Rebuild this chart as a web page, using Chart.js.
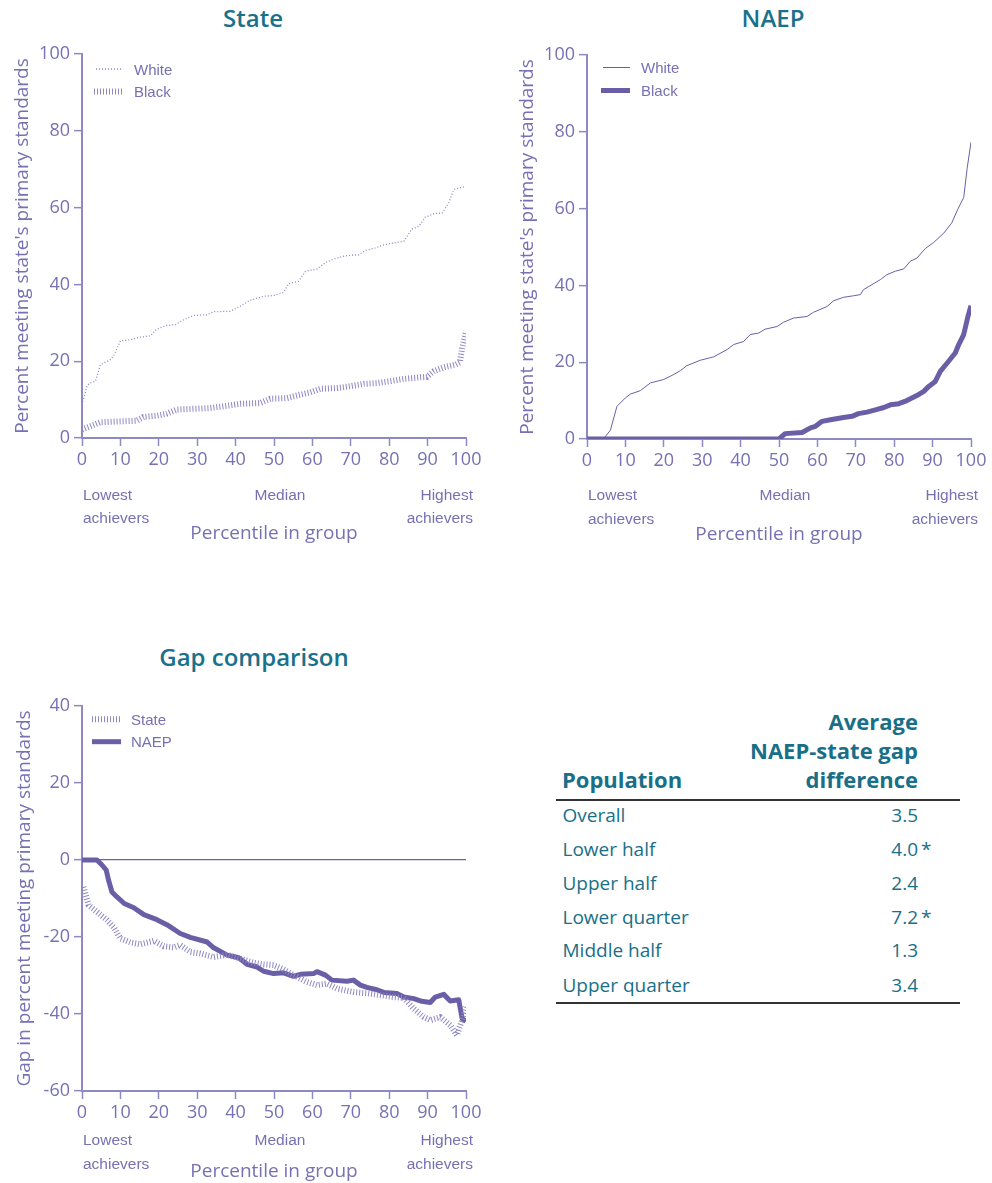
<!DOCTYPE html>
<html>
<head>
<meta charset="utf-8">
<script src="https://cdn.jsdelivr.net/npm/chart.js@4.4.1/dist/chart.umd.min.js"></script>
<style>
  html, body { margin: 0; padding: 0; background: #ffffff; }
  #page { position: relative; width: 992px; height: 1183px; overflow: hidden; font-family: "Open Sans", sans-serif; }
  .box { position: absolute; }
  .heading { position: absolute; color: #19718a; font-family: "Open Sans", sans-serif; font-size: 24px; font-weight: 600; transform: translate(-50%, -50%); white-space: nowrap; }
  .t { position: absolute; white-space: nowrap; line-height: 1; color: #1a6f88; font-family: "Open Sans", sans-serif; }
  .rule { position: absolute; height: 2px; background: #333333; }
</style>
</head>
<body>
<div id="page">
  <div class="heading" style="left:253px; top:17px;">State</div>
  <div class="heading" style="left:773px; top:17px;">NAEP</div>
  <div class="heading" style="left:254px; top:656px;">Gap comparison</div>
  <div class="box" style="left:0px; top:0px;"><canvas id="c1" width="490" height="560"></canvas></div>
  <div class="box" style="left:500px; top:0px;"><canvas id="c2" width="492" height="560"></canvas></div>
  <div class="box" style="left:0px; top:640px;"><canvas id="c3" width="490" height="543"></canvas></div>
  <div id="tbl"></div>
</div>
<script>
// ---------------- DATA ----------------
// State assessment, percent meeting standards by percentile in group
const stateWhitePct = [0,1.3,2,3.5,4.8,7.4,8.2,10,12.6,14.8,17.8,19.5,22,24.3,26.5,29,32.5,34.3,38.6,41.2,43.8,47.3,49.9,52.5,53.8,56.4,58.2,61.2,63.4,66.4,69,72,73.8,76.4,78.6,81.2,83.8,85.9,87.7,89.4,91.6,93.8,95.5,96.8,100];
const stateWhiteVal = [8.7,13.5,14.3,14.8,19.1,20.4,21.3,25.3,25.6,26.2,26.6,28.4,29.3,29.5,30.8,31.9,32.1,32.9,33.0,34.3,35.9,36.9,37.1,37.9,40.2,40.8,43.4,44.0,45.7,46.9,47.5,47.7,48.8,49.5,50.3,50.8,51.2,54.4,55.1,57.5,58.4,58.6,61.2,64.7,65.5];
const stateBlackPct = [0,4.8,9.1,14.3,16,19.5,22,24.7,29,33.4,37.8,41.2,46.4,49,53.4,56.9,59.5,62,66.4,69.9,73.4,76.8,80.3,83.8,88.1,89.8,91.6,94.2,97.2,98.4,99,100];
const stateBlackVal = [2.2,4.1,4.3,4.5,5.5,5.8,6.3,7.4,7.6,7.8,8.4,8.9,9.1,10.2,10.4,11.3,11.9,12.8,13.0,13.5,14.1,14.3,14.8,15.4,15.8,15.9,17.4,18.4,19.1,19.7,23.4,27.8];
// NAEP
const naepWhitePct = [0,4.5,6.1,7.8,10,11.3,13.9,16.5,20,22.6,24.3,26,29.5,33,36.5,38.2,40.8,42.5,44.7,46.4,49.5,51.2,53.8,57.3,59,62.5,64.2,66.8,69.4,71.2,72,74.2,76.4,78.1,80.3,82.5,84.2,85.9,88.1,90.3,92.9,95,96.5,98.1,99,100];
const naepWhiteVal = [0,0.3,2.3,8.5,10.7,11.7,12.6,14.6,15.5,16.8,17.8,19.1,20.5,21.4,23.3,24.6,25.4,27.2,27.6,28.6,29.3,30.4,31.5,31.9,33.0,34.5,36.0,36.9,37.3,37.6,38.9,40.2,41.5,42.8,43.7,44.3,46.3,47.1,49.6,51.2,53.6,56.3,59.7,62.9,70.5,77.3];
const naepBlackPct = [0,50,51.6,56,58.2,59.5,61.2,63.4,66.8,69,70.7,72.9,75.1,77.3,79,81.2,83.3,85.9,87.7,89,90.7,92,93.8,95.9,96.8,98.1,99.2,100];
const naepBlackVal = [0,0,1.4,1.7,2.9,3.3,4.6,5.0,5.6,5.9,6.6,7.0,7.6,8.2,8.9,9.2,10.0,11.3,12.4,13.7,15.0,17.6,19.8,22.4,24.6,27.2,31.9,34.7];
// Gap (Black minus White)
const gapStatePct = [0.4,1.7,3.9,6.5,8.2,10,12.6,15.2,18.7,21.3,23.9,25.6,28.2,30.8,34.3,37.8,41.2,44.7,47.3,49.9,52.1,55.1,58.6,61.2,63.8,66.4,70.7,74.2,77.7,81.2,83.8,86.4,89,90.7,93.3,95.9,97.6,99,100];
const gapStateVal = [-7.0,-11.7,-13.5,-15.6,-17.4,-20.4,-21.4,-21.9,-21.0,-22.4,-22.7,-22.1,-23.9,-24.3,-25.2,-24.6,-25.6,-26.7,-27.1,-27.3,-28.2,-29.9,-31.7,-32.5,-32.1,-33.4,-34.3,-34.6,-35.1,-35.6,-35.8,-38.6,-40.8,-41.6,-40.8,-42.9,-45.5,-41.6,-38.2];
const gapNaepPct = [0,3.9,5.2,6.3,6.9,7.8,9.1,11,13.5,16.1,19.5,22.1,25.6,28.2,32.6,34.3,37.8,40.8,43,45.6,47.3,49.9,52.5,55.1,56.9,60.3,61.2,63.4,65.1,69,70.7,72.5,74.2,76.8,78.6,82,83.8,86.4,88.5,90.7,92,94.2,95.9,98.1,99,100];
const gapNaepVal = [0,0,-1.3,-2.6,-5.2,-8.3,-9.6,-11.3,-12.4,-14.2,-15.5,-16.8,-19.1,-20.1,-21.3,-22.8,-24.7,-25.4,-27.1,-27.8,-28.9,-29.5,-29.3,-30.2,-29.7,-29.5,-29.0,-29.9,-31.2,-31.5,-31.2,-32.5,-33.1,-33.7,-34.4,-34.7,-35.6,-36.0,-36.7,-37.0,-35.6,-34.9,-36.6,-36.3,-41.2,-41.9];
// Axis ticks / labels
const xTickStep = 10;
const xLabelsLow = ["Lowest", "achievers"];
const xLabelsMid = ["Median"];
const xLabelsHigh = ["Highest", "achievers"];
// Table
const tableHeadPop = "Population";
const tableHeadGap = ["Average", "NAEP-state gap", "difference"];
const tablePopulations = ["Overall", "Lower half", "Upper half", "Lower quarter", "Middle half", "Upper quarter"];
const tableGapDiff = ["3.5", "4.0", "2.4", "7.2", "1.3", "3.4"];
const tableSignificant = [false, true, false, true, false, false];

// ---------------- STYLE ----------------
const AXIS = '#8e88c3';
const TICKTXT = '#7770b3';
const NAEP_C = '#6a5fa7';
const STATE_C = '#8d87c4';
const FONT = '"Open Sans", sans-serif';
const LFONT = '"Liberation Sans", Arial, sans-serif';

function pts(xs, ys) { return xs.map((x, i) => ({ x: x, y: ys[i] })); }

const styles = {
  stateThin: { borderColor: STATE_C, borderWidth: 1.3, borderDash: [1, 2] },
  stateHatch: { borderColor: STATE_C, borderWidth: 6, borderDash: [1, 2] },
  naepThin: { borderColor: NAEP_C, borderWidth: 1 },
  naepThick: { borderColor: NAEP_C, borderWidth: 5 }
};

function ds(label, xs, ys, st) {
  return Object.assign({
    label: label, data: pts(xs, ys), pointRadius: 0, tension: 0, fill: false,
    borderCapStyle: 'butt', borderJoinStyle: 'round'
  }, st);
}

const extrasPlugin = {
  id: 'extras',
  afterDraw(chart, args, o) {
    const ctx = chart.ctx, ca = chart.chartArea, xs = chart.scales.x;
    ctx.save();
    chart.data.datasets.forEach((d, i) => {
      const y = ca.top + o.legRows[i];
      ctx.beginPath();
      ctx.setLineDash(d.borderDash || []);
      ctx.lineWidth = d.borderWidth;
      ctx.strokeStyle = d.borderColor;
      ctx.lineCap = 'butt';
      ctx.moveTo(ca.left + o.legX0[i], y);
      ctx.lineTo(ca.left + o.legX1, y);
      ctx.stroke();
      ctx.setLineDash([]);
      ctx.fillStyle = TICKTXT;
      ctx.font = '15px ' + LFONT;
      ctx.textAlign = 'left';
      ctx.textBaseline = 'middle';
      ctx.fillText(d.label, ca.left + o.legText, y + 1.5);
    });
    ctx.fillStyle = TICKTXT;
    ctx.font = '15.5px ' + LFONT;
    ctx.textBaseline = 'middle';
    const y1 = ca.bottom + o.lab1, y2 = ca.bottom + o.lab2;
    ctx.textAlign = 'left';
    ctx.fillText(xLabelsLow[0], xs.getPixelForValue(0) + 1, y1);
    ctx.fillText(xLabelsLow[1], xs.getPixelForValue(0) + 1, y2);
    ctx.textAlign = 'center';
    ctx.fillText(xLabelsMid[0], xs.getPixelForValue(50) + 6, y1);
    ctx.textAlign = 'right';
    ctx.fillText(xLabelsHigh[0], xs.getPixelForValue(100) + 7, y1);
    ctx.fillText(xLabelsHigh[1], xs.getPixelForValue(100) + 7, y2);
    ctx.restore();
  }
};

function makeChart(id, datasets, p) {
  const cv = document.getElementById(id);
  return new Chart(cv, {
    type: 'line',
    data: { datasets: datasets },
    plugins: [extrasPlugin],
    options: {
      responsive: false,
      animation: false,
      devicePixelRatio: 1,
      layout: { padding: { top: p.padTop, right: p.padRight, left: 0, bottom: 0 } },
      plugins: {
        legend: { display: false },
        tooltip: { enabled: false },
        extras: p.extras
      },
      scales: {
        x: {
          type: 'linear', min: 0, max: 100,
          afterFit: s => { s.height = p.xHeight; },
          border: { color: AXIS, width: 2 },
          grid: { drawOnChartArea: false, drawTicks: true, tickLength: 8, tickColor: AXIS, tickWidth: 1.5 },
          ticks: { stepSize: xTickStep, color: TICKTXT, font: { family: FONT, size: 18 }, padding: 3, maxRotation: 0, autoSkip: false },
          title: { display: true, text: 'Percentile in group', color: TICKTXT, font: { family: FONT, size: 19, lineHeight: 1.2 }, padding: { top: 0, bottom: p.xTitlePad } }
        },
        y: {
          min: p.yMin, max: p.yMax,
          afterFit: s => { s.width = p.yWidth; },
          border: { color: AXIS, width: 2 },
          grid: {
            drawOnChartArea: !!p.zeroLine,
            color: c => (p.zeroLine && c.tick && c.tick.value === 0) ? NAEP_C : 'rgba(0,0,0,0)',
            lineWidth: 1.3,
            drawTicks: true, tickLength: 8, tickColor: AXIS, tickWidth: 1.5
          },
          ticks: { stepSize: 20, color: TICKTXT, font: { family: FONT, size: 18 }, padding: 4 },
          title: { display: true, text: p.yTitle, color: TICKTXT, font: { family: FONT, size: 19, lineHeight: 1.2 }, padding: { top: p.yTitlePad, bottom: 0 } }
        }
      }
    }
  });
}

makeChart('c1', [
  ds('White', stateWhitePct, stateWhiteVal, styles.stateThin),
  ds('Black', stateBlackPct, stateBlackVal, styles.stateHatch)
], {
  padTop: 54, padRight: 24, xHeight: 122, yWidth: 82, yMin: 0, yMax: 100,
  xTitlePad: 15, yTitlePad: 11.5,
  yTitle: "Percent meeting state's primary standards",
  extras: { legRows: [15, 37.5], legX0: [14, 12], legX1: 40, legText: 52, lab1: 57.5, lab2: 81 }
});

makeChart('c2', [
  ds('White', naepWhitePct, naepWhiteVal, styles.naepThin),
  ds('Black', naepBlackPct, naepBlackVal, styles.naepThick)
], {
  padTop: 55, padRight: 21, xHeight: 121, yWidth: 87, yMin: 0, yMax: 100,
  xTitlePad: 14.5, yTitlePad: 16.5,
  yTitle: "Percent meeting state's primary standards",
  extras: { legRows: [12.5, 35.5], legX0: [16, 14], legX1: 43, legText: 54, lab1: 57, lab2: 81 }
});

makeChart('c3', [
  ds('State', gapStatePct, gapStateVal, styles.stateHatch),
  ds('NAEP', gapNaepPct, gapNaepVal, styles.naepThick)
], {
  padTop: 66, padRight: 24, xHeight: 92, yWidth: 82, yMin: -60, yMax: 40,
  xTitlePad: 0, yTitlePad: 13.5, zeroLine: true,
  yTitle: "Gap in percent meeting primary standards",
  extras: { legRows: [13.3, 35.7], legX0: [10, 10], legX1: 39, legText: 49, lab1: 50, lab2: 74 }
});

// ---------------- TABLE ----------------
(function () {
  const root = document.getElementById('tbl');
  const ASC = 0.888; // baseline offset for line-height:1 in Open Sans
  function text(str, opts) {
    const d = document.createElement('div');
    d.className = 't';
    d.textContent = str;
    d.style.fontSize = opts.size + 'px';
    d.style.fontWeight = opts.bold ? '700' : '400';
    d.style.top = (opts.baseline - ASC * opts.size) + 'px';
    if (opts.right !== undefined) { d.style.right = (992 - opts.right) + 'px'; d.style.textAlign = 'right'; }
    else d.style.left = opts.left + 'px';
    root.appendChild(d);
  }
  function rule(y) {
    const r = document.createElement('div');
    r.className = 'rule';
    r.style.left = '556px'; r.style.width = '404px'; r.style.top = (y - 1) + 'px';
    root.appendChild(r);
  }
  const headBase = [730, 759, 788];
  tableHeadGap.forEach((s, i) => text(s, { size: 22, bold: true, baseline: headBase[i], right: 918 }));
  text(tableHeadPop, { size: 22, bold: true, baseline: 788, left: 562 });
  rule(800);
  const rowBase = [823, 857, 891, 925, 958, 993];
  tablePopulations.forEach((p, i) => {
    text(p, { size: 19, baseline: rowBase[i], left: 562.5 });
    text(tableGapDiff[i], { size: 19, baseline: rowBase[i], right: 918 });
    if (tableSignificant[i]) text('*', { size: 19, baseline: rowBase[i], left: 921 });
  });
  rule(1003);
})();
</script>
</body>
</html>
